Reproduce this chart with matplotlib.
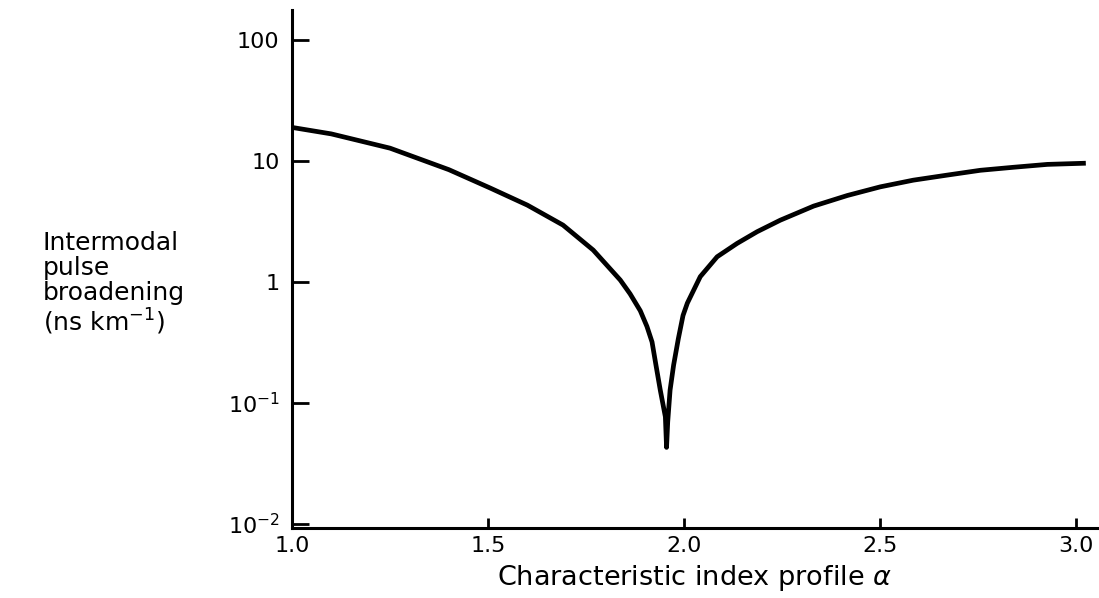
import matplotlib.pyplot as plt

# Datos
alpha = [1.00, 1.10, 1.25, 1.40, 1.505, 1.60, 1.691, 1.768, 1.837, 1.862,
         1.888, 1.905, 1.918, 1.928, 1.939, 1.952, 1.955, 1.958, 1.964, 1.973,
         1.985, 1.997, 2.008, 2.041, 2.084, 2.135, 2.186, 2.245, 2.33, 2.416,
         2.50, 2.584, 2.67, 2.755, 2.84, 2.926, 3.018]
broadening = [19.0, 16.8, 12.8, 8.5, 6.0, 4.33, 2.96, 1.84, 1.04, 0.80,
              0.58, 0.43, 0.32, 0.206, 0.128, 0.077, 0.043, 0.070, 0.128, 0.206,
              0.34, 0.53, 0.67, 1.11, 1.62, 2.09, 2.61, 3.25, 4.25, 5.2,
              6.13, 6.96, 7.66, 8.4, 8.9, 9.4, 9.6]

xticks = [1.0, 1.5, 2.0, 2.5, 3.0]
yticks = [100, 10, 1, 0.1, 0.01]
ytick_labels = ['100', '10', '1', '10$^{\\mathregular{-1}}$', '10$^{\\mathregular{-2}}$']

plt.rcParams['font.family'] = ['DejaVu Sans']

fig = plt.figure(figsize=(10.99, 5.98), dpi=100)
ax = fig.add_axes([0.2657, 0.117, 0.733, 0.866])

ax.plot(alpha, broadening, color='black', lw=3.4, solid_joinstyle='round')

ax.set_yscale('log')
ax.set_xlim(1.0, 3.054)
ax.set_ylim(0.00927, 177)

ax.set_xticks(xticks)
ax.set_xticklabels([f'{t:.1f}' for t in xticks], fontsize=16)
ax.set_yticks(yticks)
ax.set_yticklabels(ytick_labels, fontsize=16)
ax.minorticks_off()

ax.tick_params(axis='y', direction='in', length=12, width=2, pad=9)
ax.tick_params(axis='x', direction='in', length=7, width=2, pad=6)

for lado in ['top', 'right']:
    ax.spines[lado].set_visible(False)
for lado in ['left', 'bottom']:
    ax.spines[lado].set_linewidth(2.2)

ax.set_xlabel('Characteristic index profile $\\alpha$', fontsize=19.5, labelpad=5)

fig.text(0.039, 0.525, 'Intermodal\npulse\nbroadening\n(ns km$^{\\mathregular{-1}}$)',
         fontsize=18, ha='left', va='center', linespacing=1.05)

fig.savefig('out.png', dpi=100)
